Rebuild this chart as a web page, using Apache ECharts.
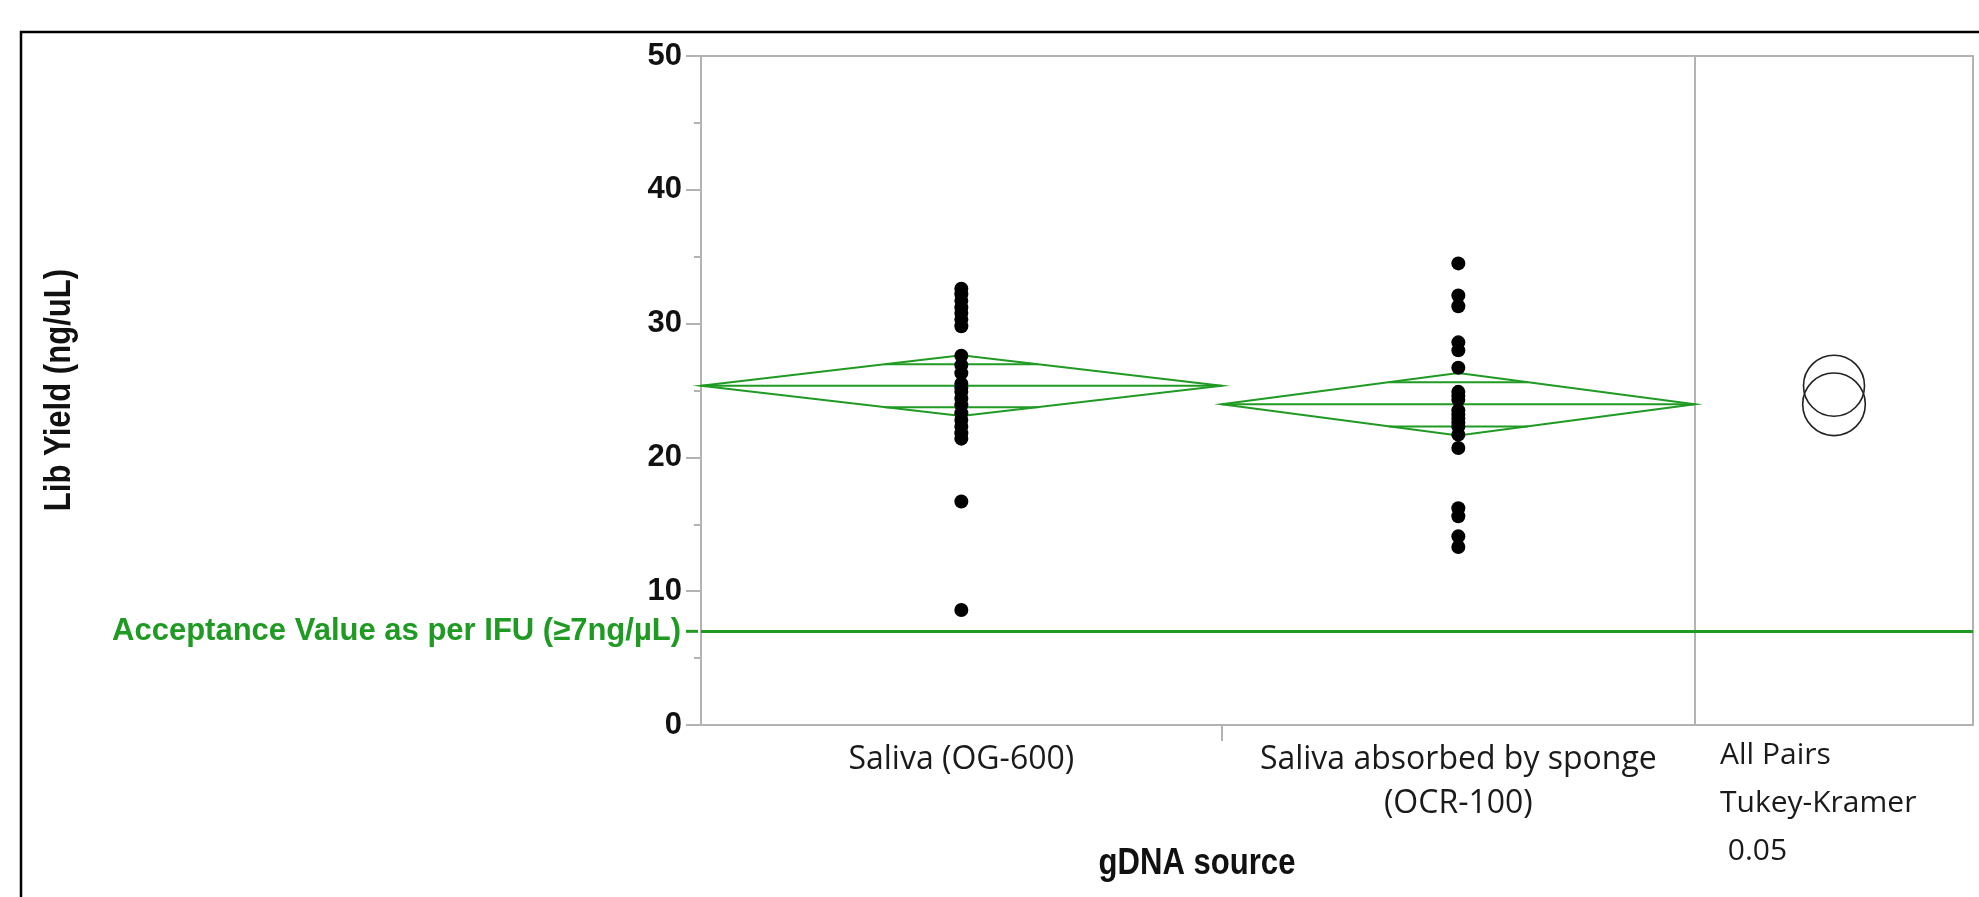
<!DOCTYPE html>
<html><head><meta charset="utf-8">
<script src="https://cdn.jsdelivr.net/npm/echarts@6/dist/echarts.min.js"></script>
<style>html,body{margin:0;padding:0;background:#fff}#c{width:1979px;height:897px}</style>
</head><body><div id="c"></div>
<script>
// ---- data ----
const categories = ['Saliva (OG-600)', 'Saliva absorbed by sponge\n(OCR-100)'];
const salivaOG600 = [32.6, 32.2, 31.7, 31.2, 30.8, 30.3, 29.8, 27.6, 26.9, 26.3, 25.5, 25.2, 24.9, 24.4, 23.9, 23.3, 22.8, 22.3, 21.8, 21.4, 16.7, 8.6];
const spongeOCR100 = [34.5, 32.1, 31.3, 28.6, 28.0, 26.7, 24.9, 24.6, 24.3, 23.5, 23.2, 22.9, 22.6, 22.3, 21.7, 20.7, 16.2, 15.6, 14.1, 13.3];
const groupMeans = [25.36, 23.97];
const diamondHalfCI = [2.27, 2.34];
const circleRadius = [2.28, 2.34];
const acceptanceValue = 7;
const acceptanceLabel = 'Acceptance Value as per IFU (≥7ng/µL)';
const yMin = 0, yMax = 50, yStep = 10;
const comparisonText = ['All Pairs', 'Tukey-Kramer', ' 0.05'];
const yTitle = 'Lib Yield (ng/uL)';
const xTitle = 'gDNA source';

// ---- derived layout of groups (JMP widths proportional to n) ----
const groups = [salivaOG600, spongeOCR100];
const counts = groups.map(g => g.length);
const starts = [0, counts[0]];
const ends = [counts[0], counts[0] + counts[1]];
const centers = starts.map((s, i) => (s + ends[i]) / 2);
const total = ends[1];

const GREEN = '#1f9a23';
const GREY = '#b3b3b3';
const BOLD = '"Liberation Sans", Arial, sans-serif';
const REG = '"Open Sans", "Noto Sans", sans-serif';

const chart = echarts.init(document.getElementById('c'), null, {renderer: 'canvas'});

const diamondData = groups.map((g, i) => [starts[i], ends[i], groupMeans[i], diamondHalfCI[i]]);
const circleData = groupMeans.map((m, i) => [0.5, m, circleRadius[i]]);

chart.setOption({
  animation: false,
  backgroundColor: '#fff',
  grid: [
    {left: 701, top: 56, width: 994, height: 669, show: true, borderColor: GREY, borderWidth: 2, backgroundColor: 'transparent'},
    {left: 1695, top: 56, width: 278, height: 669, show: true, borderColor: GREY, borderWidth: 2, backgroundColor: 'transparent'}
  ],
  xAxis: [
    {
      type: 'value', gridIndex: 0, min: 0, max: total,
      axisLine: {show: true, lineStyle: {color: GREY, width: 2}},
      axisTick: {show: true, customValues: [ends[0]], length: 16, lineStyle: {color: GREY, width: 2}},
      axisLabel: {
        show: true, customValues: centers, margin: 13,
        formatter: v => categories[centers.indexOf(v)] || '',
        fontFamily: REG, fontSize: 32, color: '#1a1a1a', lineHeight: 44
      },
      splitLine: {show: false}
    },
    {type: 'value', gridIndex: 1, min: 0, max: 1, show: false}
  ],
  yAxis: [
    {
      type: 'value', gridIndex: 0, min: yMin, max: yMax, interval: yStep,
      axisLine: {show: true, lineStyle: {color: GREY, width: 2}},
      axisTick: {show: true, length: 15, lineStyle: {color: GREY, width: 2}},
      minorTick: {show: true, splitNumber: 2, length: 7, lineStyle: {color: GREY, width: 2}},
      axisLabel: {margin: 19, fontFamily: BOLD, fontWeight: 'bold', fontSize: 31, color: '#111'},
      splitLine: {show: false}
    },
    {type: 'value', gridIndex: 1, min: yMin, max: yMax, show: false}
  ],
  series: [
    {
      type: 'custom', xAxisIndex: 0, yAxisIndex: 0, z: 3,
      data: diamondData,
      renderItem: function (params, api) {
        const s = api.value(0), e = api.value(1), m = api.value(2), h = api.value(3);
        const c = (s + e) / 2;
        const L = api.coord([s, m]), R = api.coord([e, m]);
        const T = api.coord([c, m + h]), B = api.coord([c, m - h]);
        const o = h / Math.SQRT2;
        const yU = api.coord([c, m + o])[1], yD = api.coord([c, m - o])[1];
        const xl = L[0] + (T[0] - L[0]) * (o / h), xr = R[0] - (R[0] - T[0]) * (o / h);
        const st = {stroke: GREEN, lineWidth: 2, fill: 'none'};
        return {type: 'group', children: [
          {type: 'polygon', shape: {points: [L, T, R, B]}, style: st},
          {type: 'line', shape: {x1: L[0], y1: L[1], x2: R[0], y2: R[1]}, style: st},
          {type: 'line', shape: {x1: xl, y1: yU, x2: xr, y2: yU}, style: st},
          {type: 'line', shape: {x1: xl, y1: yD, x2: xr, y2: yD}, style: st}
        ]};
      }
    },
    {
      type: 'scatter', xAxisIndex: 0, yAxisIndex: 0, z: 4,
      symbol: 'circle', symbolSize: 14, itemStyle: {color: '#000', opacity: 1},
      data: groups.flatMap((g, i) => g.map(v => [centers[i], v])),
      markLine: {
        silent: true, symbol: 'none', animation: false,
        lineStyle: {color: GREEN, width: 3, type: 'solid', opacity: 1},
        label: {show: true, position: 'start', distance: 20, formatter: acceptanceLabel,
          color: GREEN, fontFamily: BOLD, fontWeight: 'bold', fontSize: 31},
        data: [{yAxis: acceptanceValue}]
      }
    },
    {
      type: 'custom', xAxisIndex: 1, yAxisIndex: 1, z: 3,
      data: circleData,
      renderItem: function (params, api) {
        const p = api.coord([api.value(0), api.value(1)]);
        const r = api.size([0, api.value(2)])[1];
        return {type: 'circle', shape: {cx: p[0], cy: p[1], r: r}, style: {fill: 'none', stroke: '#222', lineWidth: 1.6}};
      },
      markLine: {
        silent: true, symbol: 'none', animation: false,
        lineStyle: {color: GREEN, width: 3, type: 'solid', opacity: 1},
        label: {show: false},
        data: [{yAxis: acceptanceValue}]
      }
    }
  ]
});

// small stub of the reference line in the tick area, left of the axis
const yAcc = chart.convertToPixel({yAxisIndex: 0}, acceptanceValue);

chart.setOption({
  graphic: [
    {type: 'rect', shape: {x: 21, y: 32, width: 2100, height: 1000}, style: {fill: 'none', stroke: '#000', lineWidth: 2.5}, silent: true},
    {type: 'line', shape: {x1: 686, y1: yAcc, x2: 698, y2: yAcc}, style: {stroke: GREEN, lineWidth: 3}, silent: true},
    {type: 'text', x: 60, y: 390, rotation: Math.PI / 2, scaleX: 0.84,
      style: {text: yTitle, align: 'center', verticalAlign: 'middle', fontFamily: BOLD, fontWeight: 'bold', fontSize: 37, fill: '#111'}},
    {type: 'text', x: 1197, y: 864, scaleX: 0.84,
      style: {text: xTitle, align: 'center', verticalAlign: 'middle', fontFamily: BOLD, fontWeight: 'bold', fontSize: 37, fill: '#111'}},
    {type: 'text', x: 1720, y: 755, style: {text: comparisonText[0], align: 'left', verticalAlign: 'middle', fontFamily: REG, fontSize: 30, fill: '#1a1a1a'}},
    {type: 'text', x: 1720, y: 803, style: {text: comparisonText[1], align: 'left', verticalAlign: 'middle', fontFamily: REG, fontSize: 30, fill: '#1a1a1a'}},
    {type: 'text', x: 1720, y: 851, style: {text: comparisonText[2], align: 'left', verticalAlign: 'middle', fontFamily: REG, fontSize: 30, fill: '#1a1a1a'}}
  ]
});
</script></body></html>
